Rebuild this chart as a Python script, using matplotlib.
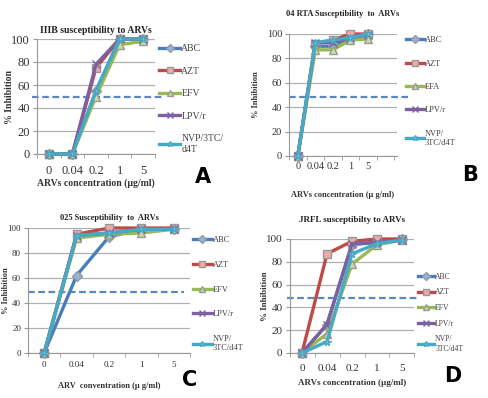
import numpy as np
import matplotlib
matplotlib.use("Agg")
from matplotlib import pyplot as plt

W, H = 489, 398

conc = ["0", "0.04", "0.2", "1", "5"]
drugs = ["ABC", "AZT", "EFV", "LPV/r", "NVP/3TC/d4T"]

# % inhibition per panel, order: ABC, AZT, EFV, LPV/r, NVP/3TC/d4T
iiib = [[0, 0, 55, 100, 100],
        [0, 0, 75, 100, 100],
        [0, 0, 50, 95, 98],
        [0, 0, 78, 100, 100],
        [0, 0, 55, 100, 100]]
rta04 = [[0, 90, 90, 97, 100],
         [0, 92, 95, 100, 100],
         [0, 87, 87, 95, 96],
         [0, 93, 93, 97, 99],
         [0, 93, 95, 97, 100]]
v025 = [[0, 62, 93, 99, 99],
        [0, 95, 100, 100, 100],
        [0, 92, 95, 96, 99],
        [0, 94, 96, 99, 99],
        [0, 94, 96, 99, 99]]
jrfl = [[0, 25, 95, 97, 100],
        [0, 87, 98, 100, 100],
        [0, 17, 78, 95, 99],
        [0, 25, 96, 97, 99],
        [0, 10, 87, 96, 99]]
ic50 = [50, 48, 49, 48]

colors = ["#4a7ebb", "#be4b48", "#98b954", "#7d60a0", "#46aac5"]
faces = ["#8fb3e0", "#f0a8a6", "#c8de98", "#b6a0d0", "#94d4e6"]
markers = ["D", "s", "^", "x", "*"]
serif = "Liberation Serif"


def px_axes(fig, left, top, right, bottom):
    return fig.add_axes([left / W, 1 - bottom / H, (right - left) / W, (bottom - top) / H])


def panel(fig, box, data, cut, title, xlabel, labels, letter, cfg):
    ax = px_axes(fig, *box)
    x = np.arange(len(conc))
    for i, vals in enumerate(data):
        ax.plot(x, vals, color=colors[i], lw=2.4, marker=markers[i], ms=cfg["ms"],
                mfc=faces[i], mec=colors[i] if markers[i] in "x*" else "#999999",
                mew=1.0, clip_on=False, label=labels[i], zorder=3 + i)
    ax.set_ylim(0, 100)
    ax.set_xlim(-0.5, cfg["xmax"])
    ax.set_yticks(range(0, 101, 20))
    ax.set_xticks(x)
    ax.set_xticklabels(conc)
    ax.set_xticks(np.arange(-0.5, cfg["xmax"] + 0.01, 1), minor=True)
    ax.grid(axis="y", color="#b0b0b0", lw=0.9)
    ax.set_axisbelow(True)
    for s in ["top", "right"]:
        ax.spines[s].set_visible(False)
    for s in ["left", "bottom"]:
        ax.spines[s].set_color("#999999")
    ax.tick_params(axis="x", which="major", length=0, pad=cfg["xpad"])
    ax.tick_params(axis="x", which="minor", length=3, color="#999999")
    ax.tick_params(axis="y", length=3, color="#999999", pad=2)
    for t in ax.get_xticklabels() + ax.get_yticklabels():
        t.set_fontfamily(serif)
        t.set_fontsize(cfg["tfs"])
        t.set_color("#333333")
    ax.set_title(title, fontfamily=serif, fontweight="bold", fontsize=cfg["titfs"],
                 pad=cfg["titpad"], color="#222222")
    ax.set_ylabel("% Inhibition", fontfamily=serif, fontweight="bold",
                  fontsize=cfg["lfs"], color="#333333")
    ax.yaxis.set_label_coords(cfg["ylx"], 0.5)
    ax.set_xlabel(xlabel, fontfamily=serif, fontweight="bold",
                  fontsize=cfg["lfs"], labelpad=cfg["xlpad"], color="#333333")
    ax.plot(cfg["dash"], [cut, cut], color="#5b86c0", lw=1.6, ls=(0, (3, 1.6)),
            clip_on=False, zorder=2)
    leg = ax.legend(loc="upper left", bbox_to_anchor=cfg["leg"], frameon=False,
                    prop={"family": serif, "size": cfg["legfs"]},
                    handlelength=2.2, handletextpad=0.1, labelspacing=cfg["lsp"],
                    borderaxespad=0, markerscale=0.8)
    for t in leg.get_texts():
        t.set_color("#444444")
    fig.text(cfg["let"][0] / W, 1 - cfg["let"][1] / H, letter, fontsize=15,
             fontweight="bold", family="DejaVu Sans", ha="center", va="center")
    return ax


fig = plt.figure(figsize=(W / 100, H / 100), dpi=100)

panel(fig, (37, 39, 155, 154), iiib, ic50[0], "IIIB susceptibility to ARVs",
      "ARVs concentration (\u00b5g/ml)",
      ["ABC", "AZT", "EFV", "LPV/r", "NVP/3TC/\nd4T"], "A",
      dict(ms=5.5, xmax=4.5, tfs=9, titfs=7, titpad=4, lfs=7, ylx=-0.195, xlpad=1, xpad=8,
           dash=[-0.7, 4.85], leg=(1.0, 0.99), legfs=7, lsp=1.4, let=(203, 177)))

panel(fig, (289, 34, 397, 156), rta04, ic50[1], "04 RTA Susceptibility  to  ARVs",
      "ARVs concentration (\u00b5 g/ml)",
      ["ABC", "AZT", "EFA", "LPV/r", "NVP/\n3TC/d4T"], "B",
      dict(ms=5.5, xmax=5.66, tfs=7.5, titfs=6, titpad=13, lfs=6, ylx=-0.27, xlpad=15, xpad=4,
           dash=[-0.5, 6.3], leg=(1.05, 1.01), legfs=6, lsp=1.85, let=(470, 175)))

panel(fig, (28, 228, 190, 353), v025, ic50[2], "025 Susceptibility  to  ARVs",
      "ARV  conventration (\u00b5 g/ml)",
      ["ABC", "AZT", "EFV", "LPV/r", "NVP/\n3TC/d4T"], "C",
      dict(ms=5.5, xmax=4.5, tfs=6.5, titfs=6, titpad=6, lfs=6, ylx=-0.11, xlpad=9, xpad=6,
           dash=[-0.5, 4.3], leg=(1.0, 0.96), legfs=6, lsp=2.0, let=(190, 380)))

panel(fig, (289.5, 239, 414.5, 353), jrfl, ic50[3], "JRFL susceptibilty to ARVs",
      "ARVs concentration (\u00b5g/ml)",
      ["ABC", "AZT", "EFV", "LPV/r", "NVP/\n3TC/d4T"], "D",
      dict(ms=5.5, xmax=4.5, tfs=8, titfs=6.5, titpad=12, lfs=6.5, ylx=-0.164, xlpad=4, xpad=8,
           dash=[-0.6, 4.6], leg=(1.0, 0.73), legfs=5.5, lsp=1.0, let=(453, 376)))

fig.savefig("out.png", dpi=100)
